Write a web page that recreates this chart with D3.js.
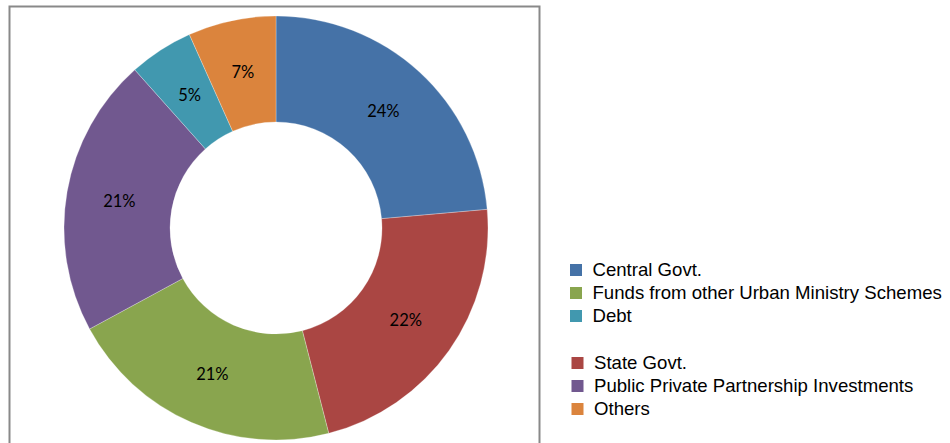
<!DOCTYPE html>
<html>
<head>
<meta charset="utf-8">
<script src="https://cdn.jsdelivr.net/npm/d3@7"></script>
<style>
html,body{margin:0;padding:0;background:#fff;}
svg{display:block;}
</style>
</head>
<body>
<svg id="chart" width="950" height="443"></svg>
<script>
// Data (clockwise from 12 o'clock)
const categories = ["Central Govt.", "State Govt.", "Funds from other Urban Ministry Schemes", "Public Private Partnership Investments", "Debt", "Others"];
const shares = [23.6, 22.4, 21.1, 21.3, 4.9, 6.7];
const colors = ["#4572A7", "#AA4643", "#89A54E", "#71588F", "#4198AF", "#DB843D"];
// Legend order (two groups, as in the reference)
const legendGroup1 = ["Central Govt.", "Funds from other Urban Ministry Schemes", "Debt"];
const legendGroup2 = ["State Govt.", "Public Private Partnership Investments", "Others"];

const svg = d3.select("#chart");

// plot area frame
svg.append("rect")
  .attr("x", 9.5).attr("y", 6.5)
  .attr("width", 530).attr("height", 460)
  .attr("fill", "none").attr("stroke", "#898989").attr("stroke-width", 2);

const cx = 276, cy = 228, rOuter = 212, rInner = 106;
const color = d3.scaleOrdinal().domain(categories).range(colors);
const data = categories.map((c, i) => ({cat: c, value: shares[i]}));
const total = d3.sum(shares);

const pie = d3.pie().value(d => d.value).sort(null);
const arc = d3.arc().innerRadius(rInner).outerRadius(rOuter);
const labelArc = d3.arc().innerRadius((rInner + rOuter) / 2).outerRadius((rInner + rOuter) / 2);

const g = svg.append("g").attr("transform", `translate(${cx},${cy})`);
const arcs = pie(data);

g.selectAll("path").data(arcs).join("path")
  .attr("d", arc)
  .attr("fill", d => color(d.data.cat))
  .attr("stroke", "rgba(255,255,255,0.45)")
  .attr("stroke-width", 0.6);

g.selectAll("text").data(arcs).join("text")
  .attr("transform", d => `translate(${labelArc.centroid(d)})`)
  .attr("text-anchor", "middle")
  .attr("dy", "0.36em")
  .attr("font-family", "Lato, 'Open Sans', sans-serif")
  .attr("font-size", 16.5)
  .attr("fill", "#000")
  .text(d => Math.round(d.data.value / total * 100) + "%");

// Legend
const legend = svg.append("g").attr("font-family", "'Liberation Sans', Arial, sans-serif").attr("font-size", 18.6);
function drawGroup(items, x0, y0) {
  const rowY = d3.scalePoint().domain(items).range([y0, y0 + 46]);
  items.forEach(name => {
    const y = rowY(name);
    legend.append("rect")
      .attr("x", x0).attr("y", y - 12)
      .attr("width", 12).attr("height", 12)
      .attr("fill", color(name));
    legend.append("text")
      .attr("x", x0 + 22.5).attr("y", y)
      .attr("fill", "#000")
      .text(name);
  });
}
drawGroup(legendGroup1, 570, 276);
drawGroup(legendGroup2, 571.5, 369);
</script>
</body>
</html>
